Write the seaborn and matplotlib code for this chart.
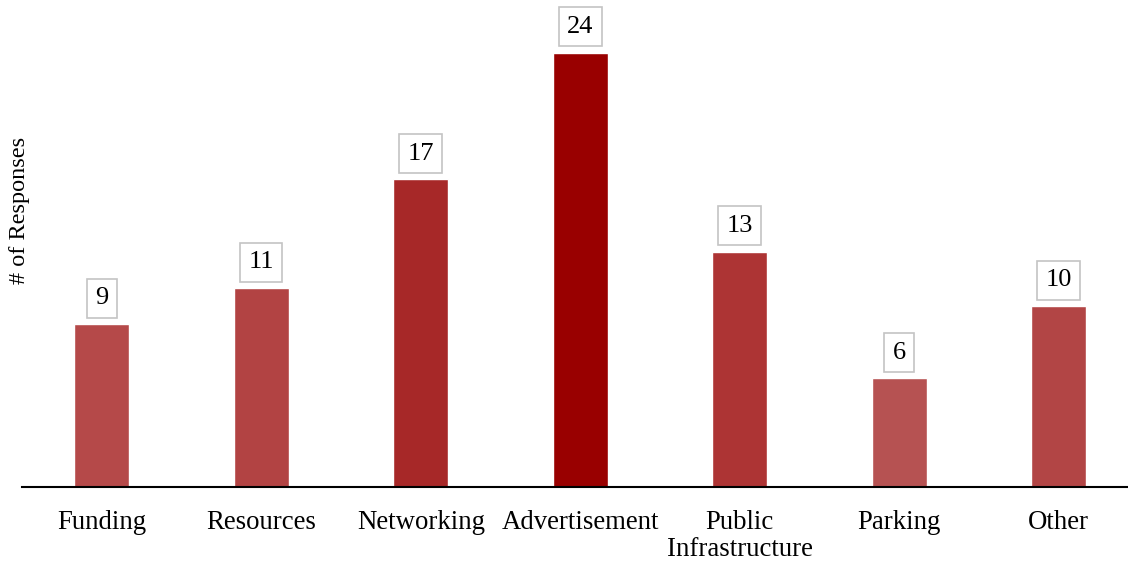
import matplotlib
matplotlib.use("Agg")
import matplotlib.pyplot as plt
import seaborn as sns
import pandas as pd

categories = ["Funding", "Resources", "Networking", "Advertisement",
              "Public\nInfrastructure", "Parking", "Other"]
responses = [9, 11, 17, 24, 13, 6, 10]
bar_colors = ["#b54949", "#b24343", "#a72828", "#990000",
              "#ad3434", "#b65252", "#b24545"]

df = pd.DataFrame({"category": categories, "responses": responses})

sns.set_theme(style="white")
plt.rcParams["font.family"] = ["Liberation Serif", "DejaVu Serif"]
plt.rcParams["text.color"] = "black"
plt.rcParams["axes.labelcolor"] = "black"
plt.rcParams["xtick.color"] = "black"

fig = plt.figure(figsize=(11.28, 5.61), dpi=100)
ax = fig.add_axes([22 / 1128, (561 - 487) / 561, (1128 - 22) / 1128, 487 / 561])

sns.barplot(data=df, x="category", y="responses", hue="category",
            palette=bar_colors, legend=False, width=0.345,
            saturation=1, ax=ax)

ax.set_xlim(-0.5, 6.434)
ax.set_ylim(0, 26.9)
ax.set_yticks([])
ax.set_xlabel("")
ax.set_ylabel("# of Responses", fontsize=17.5, color="black")
ax.yaxis.set_label_coords(0.0072, 0.567)

for side in ["top", "right", "left"]:
    ax.spines[side].set_visible(False)
ax.spines["bottom"].set_color("black")
ax.spines["bottom"].set_linewidth(1.5)

ax.tick_params(axis="x", length=0, labelsize=19.3, pad=16.5, labelcolor="black")
for lbl in ax.get_xticklabels():
    lbl.set_linespacing(1.1)
    lbl.set_verticalalignment("top")

for i, v in enumerate(responses):
    ax.annotate(str(v), xy=(i, v), xytext=(0, 10.6), textcoords="offset points",
                ha="center", va="bottom", fontsize=19, color="black",
                bbox=dict(boxstyle="square,pad=0.32", fc="white",
                          ec="#c4c4c4", lw=1.2))

fig.savefig("out.png", dpi=100)
